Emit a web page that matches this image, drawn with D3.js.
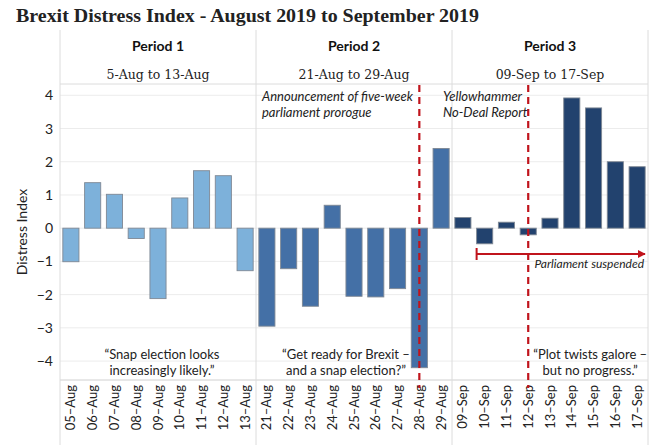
<!DOCTYPE html>
<html><head><meta charset="utf-8">
<script src="https://cdn.jsdelivr.net/npm/d3@7"></script>
<style>body{margin:0;background:#fff}svg{display:block}</style>
</head><body>
<svg id="c" width="652" height="445"></svg>
<script>
const title = "Brexit Distress Index - August 2019 to September 2019";
const periods = ["Period 1", "Period 2", "Period 3"];
const periodRanges = ["5-Aug to 13-Aug", "21-Aug to 29-Aug", "09-Sep to 17-Sep"];
const dates1 = ["05–Aug","06–Aug","07–Aug","08–Aug","09–Aug","10–Aug","11–Aug","12–Aug","13–Aug"];
const values1 = [-1.01, 1.37, 1.02, -0.31, -2.12, 0.91, 1.73, 1.58, -1.28];
const dates2 = ["21–Aug","22–Aug","23–Aug","24–Aug","25–Aug","26–Aug","27–Aug","28–Aug","29–Aug"];
const values2 = [-2.95, -1.22, -2.35, 0.69, -2.05, -2.07, -1.82, -4.2, 2.4];
const dates3 = ["09–Sep","10–Sep","11–Sep","12–Sep","13–Sep","14–Sep","15–Sep","16–Sep","17–Sep"];
const values3 = [0.32, -0.47, 0.18, -0.2, 0.3, 3.92, 3.62, 2.0, 1.85];
const yTicks = [-4, -3, -2, -1, 0, 1, 2, 3, 4];
const quotes = [["“Snap election looks", "increasingly likely.”"], ["“Get ready for Brexit –", "and a snap election?”"], ["“Plot twists galore –", "but no progress.”"]];
const quotePos = [0.52, 0.459, 0.705];
const eventLines = [{period: 1, date: "28–Aug", text: ["Announcement of five-week", "parliament prorogue"]}, {period: 2, date: "12–Sep", text: ["Yellowhammer", "No-Deal Report"]}];
const suspendStart = "10–Sep";
const suspendLabel = "Parliament suspended";
const colors = ["#7db1da", "#4470a6", "#22426e"];

const svg = d3.select("#c");
const L = 60, R = 648, T = 84, B = 380, headTop = 30;
const panelW = (R - L) / 3;
const y = d3.scaleLinear().domain([-4.57, 4.34]).range([B, T]);
const red = "#c0141c";
const sans = "Lato, 'Open Sans', sans-serif";
const serif = "'DejaVu Serif', Georgia, serif";

// title
const tt = svg.append("text").attr("x", 16).attr("y", 22).attr("font-family", "'Liberation Serif', serif")
  .attr("font-weight", "bold").attr("font-size", 18).attr("fill", "#222").text(title);
const tl = tt.node().getComputedTextLength();
if (Math.abs(tl - 463) > 3) tt.attr("textLength", 463).attr("lengthAdjust", "spacingAndGlyphs");

// gridlines
svg.append("g").selectAll("line").data(yTicks).join("line")
  .attr("x1", L).attr("x2", R).attr("y1", d => y(d)).attr("y2", d => y(d))
  .attr("stroke", "#ececec").attr("stroke-width", 1);

// y axis
const yAxis = svg.append("g").attr("transform", `translate(${L},0)`)
  .call(d3.axisLeft(y).tickValues(yTicks).tickSize(0).tickPadding(7).tickFormat(d => d < 0 ? "−" + Math.abs(d) : d));
yAxis.select(".domain").remove();
yAxis.selectAll("text").attr("font-family", sans).attr("font-size", 14).attr("fill", "#222");
svg.append("text").attr("transform", `translate(27,${(T + B) / 2}) rotate(-90)`).attr("text-anchor", "middle")
  .attr("font-family", sans).attr("font-size", 14).attr("fill", "#222").text("Distress Index");

// structural lines
svg.append("line").attr("x1", L).attr("x2", R).attr("y1", T).attr("y2", T).attr("stroke", "#dcdcdc");
svg.append("line").attr("x1", L).attr("x2", R).attr("y1", B).attr("y2", B).attr("stroke", "#d0d0d0");
[0, 1, 2, 3].forEach(i => svg.append("line").attr("x1", L + i * panelW).attr("x2", L + i * panelW)
  .attr("y1", headTop).attr("y2", 445).attr("stroke", "#dcdcdc"));

const allDates = [dates1, dates2, dates3];
const allValues = [values1, values2, values3];
const xs = [];
allDates.forEach((dates, p) => {
  const x0 = L + p * panelW;
  const x = d3.scaleBand().domain(dates).range([x0, x0 + panelW]).paddingInner(0.26).paddingOuter(0.13);
  xs.push(x);
  const g = svg.append("g");
  g.append("text").attr("x", x0 + panelW / 2).attr("y", 51).attr("text-anchor", "middle")
    .attr("font-family", sans).attr("font-weight", "bold").attr("font-size", 14).attr("fill", "#111").text(periods[p]);
  g.append("text").attr("x", x0 + panelW / 2).attr("y", 79).attr("text-anchor", "middle")
    .attr("font-family", serif).attr("font-size", 12.5).attr("fill", "#222").text(periodRanges[p]);
  g.selectAll("rect").data(dates.map((d, i) => ({d, v: allValues[p][i]}))).join("rect")
    .attr("x", d => x(d.d)).attr("width", x.bandwidth())
    .attr("y", d => y(Math.max(0, d.v))).attr("height", d => Math.abs(y(d.v) - y(0)))
    .attr("fill", colors[p]).attr("stroke", "#7f8894").attr("stroke-width", 0.9);
  const ax = g.append("g").attr("transform", `translate(0,${B})`)
    .call(d3.axisBottom(x).tickSize(0).tickPadding(0));
  ax.select(".domain").remove();
  ax.selectAll("text").attr("transform", "rotate(-90)").attr("text-anchor", "end")
    .attr("x", -5).attr("y", 0).attr("dy", "0.35em")
    .attr("font-family", sans).attr("font-size", 13).attr("fill", "#222");
  const qx = x0 + panelW * quotePos[p];
  quotes[p].forEach((q, k) => g.append("text").attr("x", qx).attr("y", 359 + k * 16).attr("text-anchor", "middle")
    .attr("font-family", sans).attr("font-size", 13).attr("fill", "#222").text(q));
});

// event dashed lines & annotations
eventLines.forEach(e => {
  const x = xs[e.period];
  const cx = x(e.date) + x.bandwidth() / 2;
  svg.append("line").attr("x1", cx).attr("x2", cx).attr("y1", 85).attr("y2", 388)
    .attr("stroke", red).attr("stroke-width", 2.2).attr("stroke-dasharray", "7,5");
  const ax0 = L + e.period * panelW + 6;
  e.text.forEach((t, k) => svg.append("text").attr("x", ax0 - (e.period === 2 ? 15 : 0)).attr("y", 101 + k * 16)
    .attr("font-family", sans).attr("font-style", "italic").attr("font-size", 13).attr("fill", "#222").text(t));
});

// parliament suspended arrow
const xs3 = xs[2];
const ax1 = xs3(suspendStart), ay = 254;
const defs = svg.append("defs");
defs.append("marker").attr("id", "ah").attr("viewBox", "0 0 10 10").attr("refX", 9).attr("refY", 5)
  .attr("markerWidth", 4).attr("markerHeight", 4).attr("orient", "auto")
  .append("path").attr("d", "M0,0L10,5L0,10z").attr("fill", red);
svg.append("line").attr("x1", ax1).attr("x2", R - 3).attr("y1", ay).attr("y2", ay)
  .attr("stroke", red).attr("stroke-width", 2).attr("marker-end", "url(#ah)");
svg.append("line").attr("x1", ax1).attr("x2", ax1).attr("y1", ay - 6).attr("y2", ay + 6)
  .attr("stroke", red).attr("stroke-width", 2);
svg.append("text").attr("x", R - 4).attr("y", 268).attr("text-anchor", "end")
  .attr("font-family", sans).attr("font-style", "italic").attr("font-size", 12).attr("fill", "#222").text(suspendLabel);
</script>
</body></html>
